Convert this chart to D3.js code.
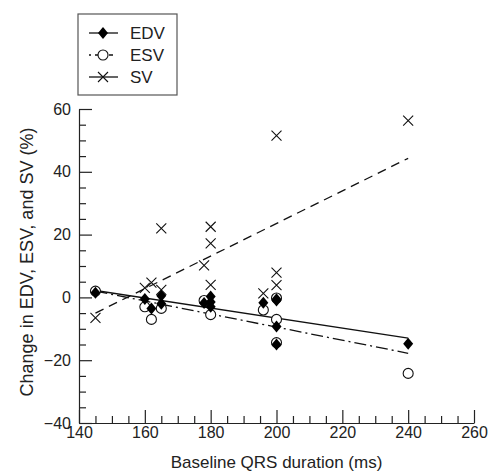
<!DOCTYPE html>
<meta charset="utf-8">
<style>
  body { margin: 0; background: #fff; }
  text { font-family: "Liberation Sans", Arial, sans-serif; fill: #222; }
</style>
<body>
<script src="https://cdn.jsdelivr.net/npm/d3@7"></script>
<script>

// values: [QRS ms, % change]
var edvPoints = [[145, 1.5], [160, -0.5], [162, -3.5], [165, 0.5], [165, -2], [178, -1.8],
  [180, 0.3], [180, -1.5], [180, -3], [196, -1.7], [200, -0.6], [200, -1], [200, -9.3],
  [200, -15], [240, -14.8]];
var esvPoints = [[145, 2], [160, -3], [162, -7], [165, -3.5], [178, -1], [180, -5.5],
  [196, -4], [200, -0.2], [200, -7], [200, -14.4], [240, -24.2]];
var svPoints = [[145, -6.5], [160, 3], [162, 4.7], [165, 22], [165, 2.4], [178, 10.2],
  [180, 22.5], [180, 17.2], [180, 4], [196, 1.3], [200, 51.5], [200, 7.9], [200, 3.9],
  [240, 56.3]];

// fitted lines, end points as drawn
var edvFit = [[145, 2.2], [240, -13]];
var esvFit = [[145, 2], [240, -17.8]];
var svFit = [[145, -5], [240, 44.3]];

var xTicks = [140, 160, 180, 200, 220, 240, 260];
var yTicks = [-40, -20, 0, 20, 40, 60];

var margin = {top: 109, left: 79},
    width = 395,
    height = 314;

var svg = d3.select("body").append("svg")
    .attr("width", 489)
    .attr("height", 474);

var g = svg.append("g")
    .attr("transform", "translate(" + margin.left + "," + margin.top + ")");

var x = d3.scaleLinear().domain([140, 260]).range([0, width]);
var y = d3.scaleLinear().domain([-40, 60]).range([height, 0]);

//minor ticks every 5
var minorX = d3.range(140, 261, 5).filter(function(d) { return d % 20 != 0; });
var minorY = d3.range(-40, 61, 5).filter(function(d) { return d % 20 != 0; });

g.append("g")
    .attr("transform", "translate(0," + height + ")")
    .call(d3.axisBottom(x).tickValues(minorX).tickSize(-7).tickFormat(""))
    .call(function(a) { a.select(".domain").remove(); });

g.append("g")
    .call(d3.axisLeft(y).tickValues(minorY).tickSize(-7).tickFormat(""))
    .call(function(a) { a.select(".domain").remove(); });

var xAxis = g.append("g")
    .attr("transform", "translate(0," + height + ")")
    .call(d3.axisBottom(x).tickValues(xTicks).tickSizeInner(-13).tickSizeOuter(0).tickPadding(4));
xAxis.selectAll("text").style("font-size", "16px");

var yAxis = g.append("g")
    .call(d3.axisLeft(y).tickValues(yTicks).tickSizeInner(-13).tickSizeOuter(0).tickPadding(8)
      .tickFormat(function(d) { return d < 0 ? "\u2212" + Math.abs(d) : d; }));
yAxis.selectAll("text").style("font-size", "16px");

g.selectAll(".domain, .tick line").attr("stroke", "#222").attr("stroke-width", 1.2);

// axis titles
svg.append("text")
    .attr("x", margin.left + width / 2)
    .attr("y", 468)
    .attr("text-anchor", "middle")
    .style("font-size", "17px")
    .text("Baseline QRS duration (ms)");

svg.append("text")
    .attr("transform", "translate(33," + (margin.top + height / 2 - 4) + ") rotate(-90)")
    .attr("text-anchor", "middle")
    .style("font-size", "18px")
    .text("Change in EDV, ESV, and SV (%)");

// fit lines
var line = d3.line().x(function(d) { return x(d[0]); }).y(function(d) { return y(d[1]); });

g.append("path").datum(svFit).attr("d", line)
    .attr("fill", "none").attr("stroke", "#111").attr("stroke-width", 1.3)
    .attr("stroke-dasharray", "9,6");
g.append("path").datum(esvFit).attr("d", line)
    .attr("fill", "none").attr("stroke", "#111").attr("stroke-width", 1.3)
    .attr("stroke-dasharray", "12,4,2,4");
g.append("path").datum(edvFit).attr("d", line)
    .attr("fill", "none").attr("stroke", "#111").attr("stroke-width", 1.3);

// markers
var cross = "M-5,-5L5,5M-5,5L5,-5";
var diamond = "M0,-6L5,0L0,6L-5,0Z";

g.selectAll(".sv").data(svPoints).enter().append("path")
    .attr("class", "sv")
    .attr("d", cross)
    .attr("transform", function(d) { return "translate(" + x(d[0]) + "," + y(d[1]) + ")"; })
    .attr("stroke", "#111").attr("stroke-width", 1.1).attr("fill", "none");

g.selectAll(".esv").data(esvPoints).enter().append("circle")
    .attr("class", "esv")
    .attr("cx", function(d) { return x(d[0]); })
    .attr("cy", function(d) { return y(d[1]); })
    .attr("r", 5)
    .attr("fill", "#fff").attr("stroke", "#111").attr("stroke-width", 1.1);

g.selectAll(".edv").data(edvPoints).enter().append("path")
    .attr("class", "edv")
    .attr("d", diamond)
    .attr("transform", function(d) { return "translate(" + x(d[0]) + "," + y(d[1]) + ")"; })
    .attr("fill", "#000");

// legend
var legend = svg.append("g").attr("transform", "translate(78,14)");
legend.append("rect")
    .attr("width", 99).attr("height", 81)
    .attr("fill", "#fff").attr("stroke", "#555").attr("stroke-width", 1.2);

var legendItems = [
  {name: "EDV", dash: null, mark: "diamond"},
  {name: "ESV", dash: "2,4,12", mark: "circle"},
  {name: "SV", dash: null, mark: "cross"}
];

legendItems.forEach(function(it, i) {
  var cy = 19 + i * 22;
  legend.append("line")
      .attr("x1", 11).attr("x2", 40).attr("y1", cy).attr("y2", cy)
      .attr("stroke", "#111").attr("stroke-width", 1.3)
      .attr("stroke-dasharray", it.dash);
  if (it.mark == "diamond") {
    legend.append("path").attr("d", diamond)
        .attr("transform", "translate(25," + cy + ")").attr("fill", "#000");
  } else if (it.mark == "circle") {
    legend.append("circle").attr("cx", 25).attr("cy", cy).attr("r", 5)
        .attr("fill", "#fff").attr("stroke", "#111").attr("stroke-width", 1.1);
  } else {
    legend.append("path").attr("d", cross)
        .attr("transform", "translate(25," + cy + ")")
        .attr("stroke", "#111").attr("stroke-width", 1.1).attr("fill", "none");
  }
  legend.append("text")
      .attr("x", 52).attr("y", cy + 6)
      .style("font-size", "17px")
      .text(it.name);
});

</script>
</body>
